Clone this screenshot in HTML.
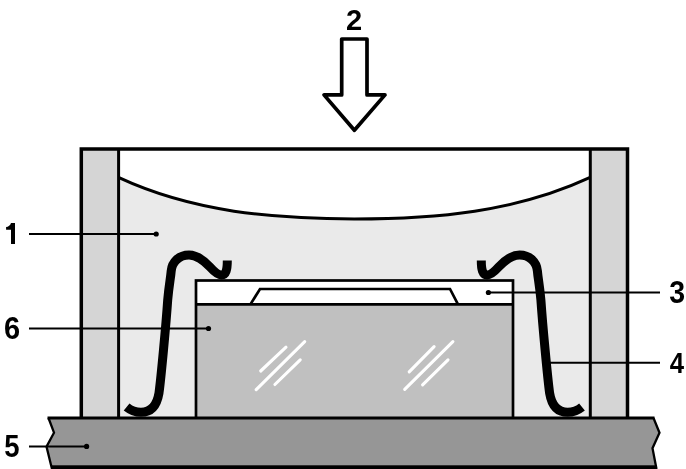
<!DOCTYPE html>
<html><head><meta charset="utf-8">
<style>
html,body{margin:0;padding:0;background:#fff;width:686px;height:469px;overflow:hidden}
svg{display:block}
text{font-family:"Liberation Sans",sans-serif;font-weight:bold;font-size:30px;fill:#000}
</style></head>
<body>
<svg width="686" height="469" viewBox="0 0 686 469">
  <!-- frame interior fill -->
  <rect x="118" y="149" width="473" height="270" fill="#eaeaea"/>
  <!-- white area above meniscus -->
  <path d="M118 149 L591 149 L591 177.7 L589.6 177.7 C515.8 212 435.2 218.9 354.3 218.9 C273.4 218.9 192.8 212 119 177.7 L118 177.7 Z" fill="#fff"/>
  <!-- walls -->
  <rect x="81" y="149" width="37.6" height="270" fill="#d5d5d5"/>
  <rect x="590.3" y="149" width="37.2" height="270" fill="#d5d5d5"/>
  <!-- meniscus curve -->
  <path d="M119 177.7 C192.8 212 273.4 218.9 354.3 218.9 C435.2 218.9 515.8 212 589.6 177.7" fill="none" stroke="#000" stroke-width="3"/>
  <!-- frame lines -->
  <path d="M81.3 418 L81.3 149 L627.5 149 L627.5 418" fill="none" stroke="#000" stroke-width="3.5" stroke-linejoin="miter"/>
  <line x1="118.6" y1="149" x2="118.6" y2="418" stroke="#000" stroke-width="3"/>
  <line x1="590.3" y1="149" x2="590.3" y2="418" stroke="#000" stroke-width="3"/>

  <!-- chip -->
  <rect x="196" y="280.5" width="317" height="24" fill="#fff"/>
  <rect x="196" y="304.4" width="317" height="114" fill="#c0c0c0"/>
  <rect x="196" y="280.5" width="317" height="140" fill="none" stroke="#000" stroke-width="2.7"/>
  <line x1="196" y1="304.4" x2="513" y2="304.4" stroke="#000" stroke-width="2.7"/>
  <path d="M250.4 304.4 L260 289 L450 289 L458 304.4" fill="none" stroke="#000" stroke-width="2.7"/>
  <!-- glass marks -->
  <g stroke="#fff" stroke-width="3.1" stroke-linecap="round">
    <line x1="260.7" y1="371" x2="286" y2="347.2"/>
    <line x1="256.2" y1="389.7" x2="304.7" y2="341.6"/>
    <line x1="274.9" y1="384.5" x2="300.2" y2="359.9"/>
    <line x1="409.2" y1="371.8" x2="434.1" y2="346.7"/>
    <line x1="404.7" y1="389.4" x2="452.9" y2="341.6"/>
    <line x1="422.6" y1="384.9" x2="448" y2="359.9"/>
  </g>

  <!-- base -->
  <path d="M48.5 418 L653.5 418 L659.5 432.7 L652.5 448.2 L656 466 L656 475 L52 475 L52 466 L46.5 446.6 L54 432.7 Z" fill="#969696"/>
  <path d="M48.5 418 L54 432.7 L46.5 446.6 L52 469" fill="none" stroke="#000" stroke-width="2.3" stroke-linejoin="miter"/>
  <path d="M653.5 418 L659.5 432.7 L652.5 448.2 L656.5 469" fill="none" stroke="#000" stroke-width="2.3" stroke-linejoin="miter"/>
  <line x1="47.5" y1="418" x2="654.5" y2="418" stroke="#000" stroke-width="3.1"/>
  <rect x="51" y="465.3" width="606" height="5" fill="#000"/>

  <!-- leads -->
  <path d="M126.6 406.9 C131 410.5 136 412.3 141 412.3 C151.5 412.3 157 405 159 393 C161 378 166 325 167.7 300 C169 285 170.5 279 171.2 271 C172 262 179 255 189 255 C197 255 203 259.5 210 267 C214.5 272 218 275 221.5 275 C226 275 227.3 270 227.3 260.6" fill="none" stroke="#000" stroke-width="9"/>
  <path transform="translate(708.6 0) scale(-1 1)" d="M126.6 406.9 C131 410.5 136 412.3 141 412.3 C151.5 412.3 157 405 159 393 C161 378 166 325 167.7 300 C169 285 170.5 279 171.2 271 C172 262 179 255 189 255 C197 255 203 259.5 210 267 C214.5 272 218 275 221.5 275 C226 275 227.3 270 227.3 260.6" fill="none" stroke="#000" stroke-width="9"/>

  <!-- arrow -->
  <path d="M341.7 39 L367 39 L367 94.9 L385 94.9 L354.4 130.3 L324 94.9 L341.7 94.9 Z" fill="#fff" stroke="#000" stroke-width="3.7" stroke-linejoin="round"/>

  <!-- label lines -->
  <g stroke="#000" stroke-width="2">
    <line x1="29" y1="234" x2="156" y2="234"/>
    <line x1="29" y1="328.4" x2="208.5" y2="328.4"/>
    <line x1="29" y1="446.5" x2="86.6" y2="446.5"/>
    <line x1="488.4" y1="292.6" x2="660" y2="292.6"/>
    <line x1="545" y1="362.8" x2="660" y2="362.8"/>
  </g>
  <g fill="#000">
    <circle cx="156.2" cy="234" r="2.6"/>
    <circle cx="208.5" cy="328.5" r="2.6"/>
    <circle cx="86.6" cy="446.4" r="2.6"/>
    <circle cx="488.4" cy="292.5" r="2.6"/>
  </g>

  <!-- labels -->
  <path d="M11 223 L15 223 L15 244 L11 244 L11 229.8 L6.1 229.8 L6.1 227 C8.5 226.8 10.2 225.5 11 223 Z" fill="#000"/>
  <g class="t" style="will-change:transform">
  <text transform="translate(346 29.8) scale(0.97 1)">2</text>
  <text transform="translate(669.34 302.5) scale(0.95 1.03)">3</text>
  <text transform="translate(669.64 372.9) scale(0.858 1)">4</text>
  <text transform="translate(4.28 456.6) scale(0.916 1.035)">5</text>
  <text transform="translate(4.04 338.6) scale(0.966 1.02)">6</text>
  </g>
</svg>
</body></html>
